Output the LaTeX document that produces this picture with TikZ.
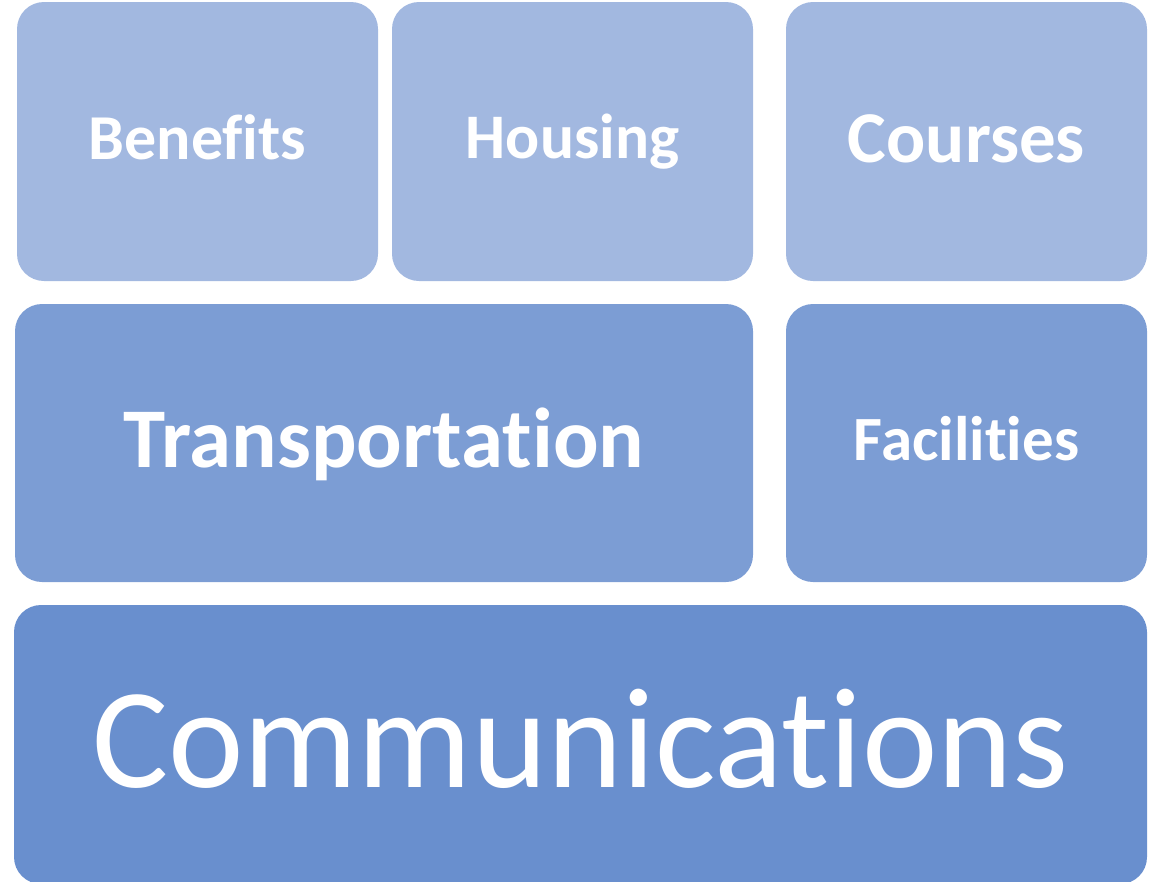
\documentclass[tikz,border=0pt]{standalone}
\usepackage{fontspec}
\setmainfont{Carlito}[Ligatures=NoCommon]
\definecolor{lightrow}{RGB}{162,184,224}
\definecolor{midrow}{RGB}{124,157,212}
\definecolor{baserow}{RGB}{105,143,206}
\begin{document}
\begin{tikzpicture}[x=1pt,y=-1pt,
  tile/.style={rounded corners=27pt, inner sep=0pt, text=white, align=center, text depth=6pt},
  small tile/.style={tile, minimum width=361pt, minimum height=279pt},
  % font size in pt; the text height is the cap height so the capitals sit centred
  capsize/.style={text height=0.644*#1pt, font=\fontsize{#1}{#1}\selectfont},
  boldsize/.style={text height=0.644*#1pt, font=\bfseries\fontsize{#1}{#1}\selectfont}]
% the page is the size of the reference, in pixels
\useasboundingbox (0,0) rectangle (1155,881);
\clip (0,0) rectangle (1155,881);
% top row: three equal tiles
\node[small tile, fill=lightrow, boldsize=64] (benefits) at (197.5,141.5) {Benefits};
\node[small tile, fill=lightrow, boldsize=63.5] (housing) at (572.5,141.5) {Housing};
\node[small tile, fill=lightrow, boldsize=73] (courses) at (966.5,141.5) {Courses};
% middle row: one wide tile and one small one
\node[tile, fill=midrow, minimum width=738pt, minimum height=278pt, boldsize=85] (transport) at (384,443) {Transportation};
\node[small tile, fill=midrow, minimum height=278pt, boldsize=63] (facilities) at (966.5,443) {Facilities};
% bottom row runs past the lower edge of the page
\node[tile, fill=baserow, minimum width=1133pt, minimum height=279pt, capsize=143] (comms) at (580.5,744.5) {Communications};
\end{tikzpicture}
\end{document}
